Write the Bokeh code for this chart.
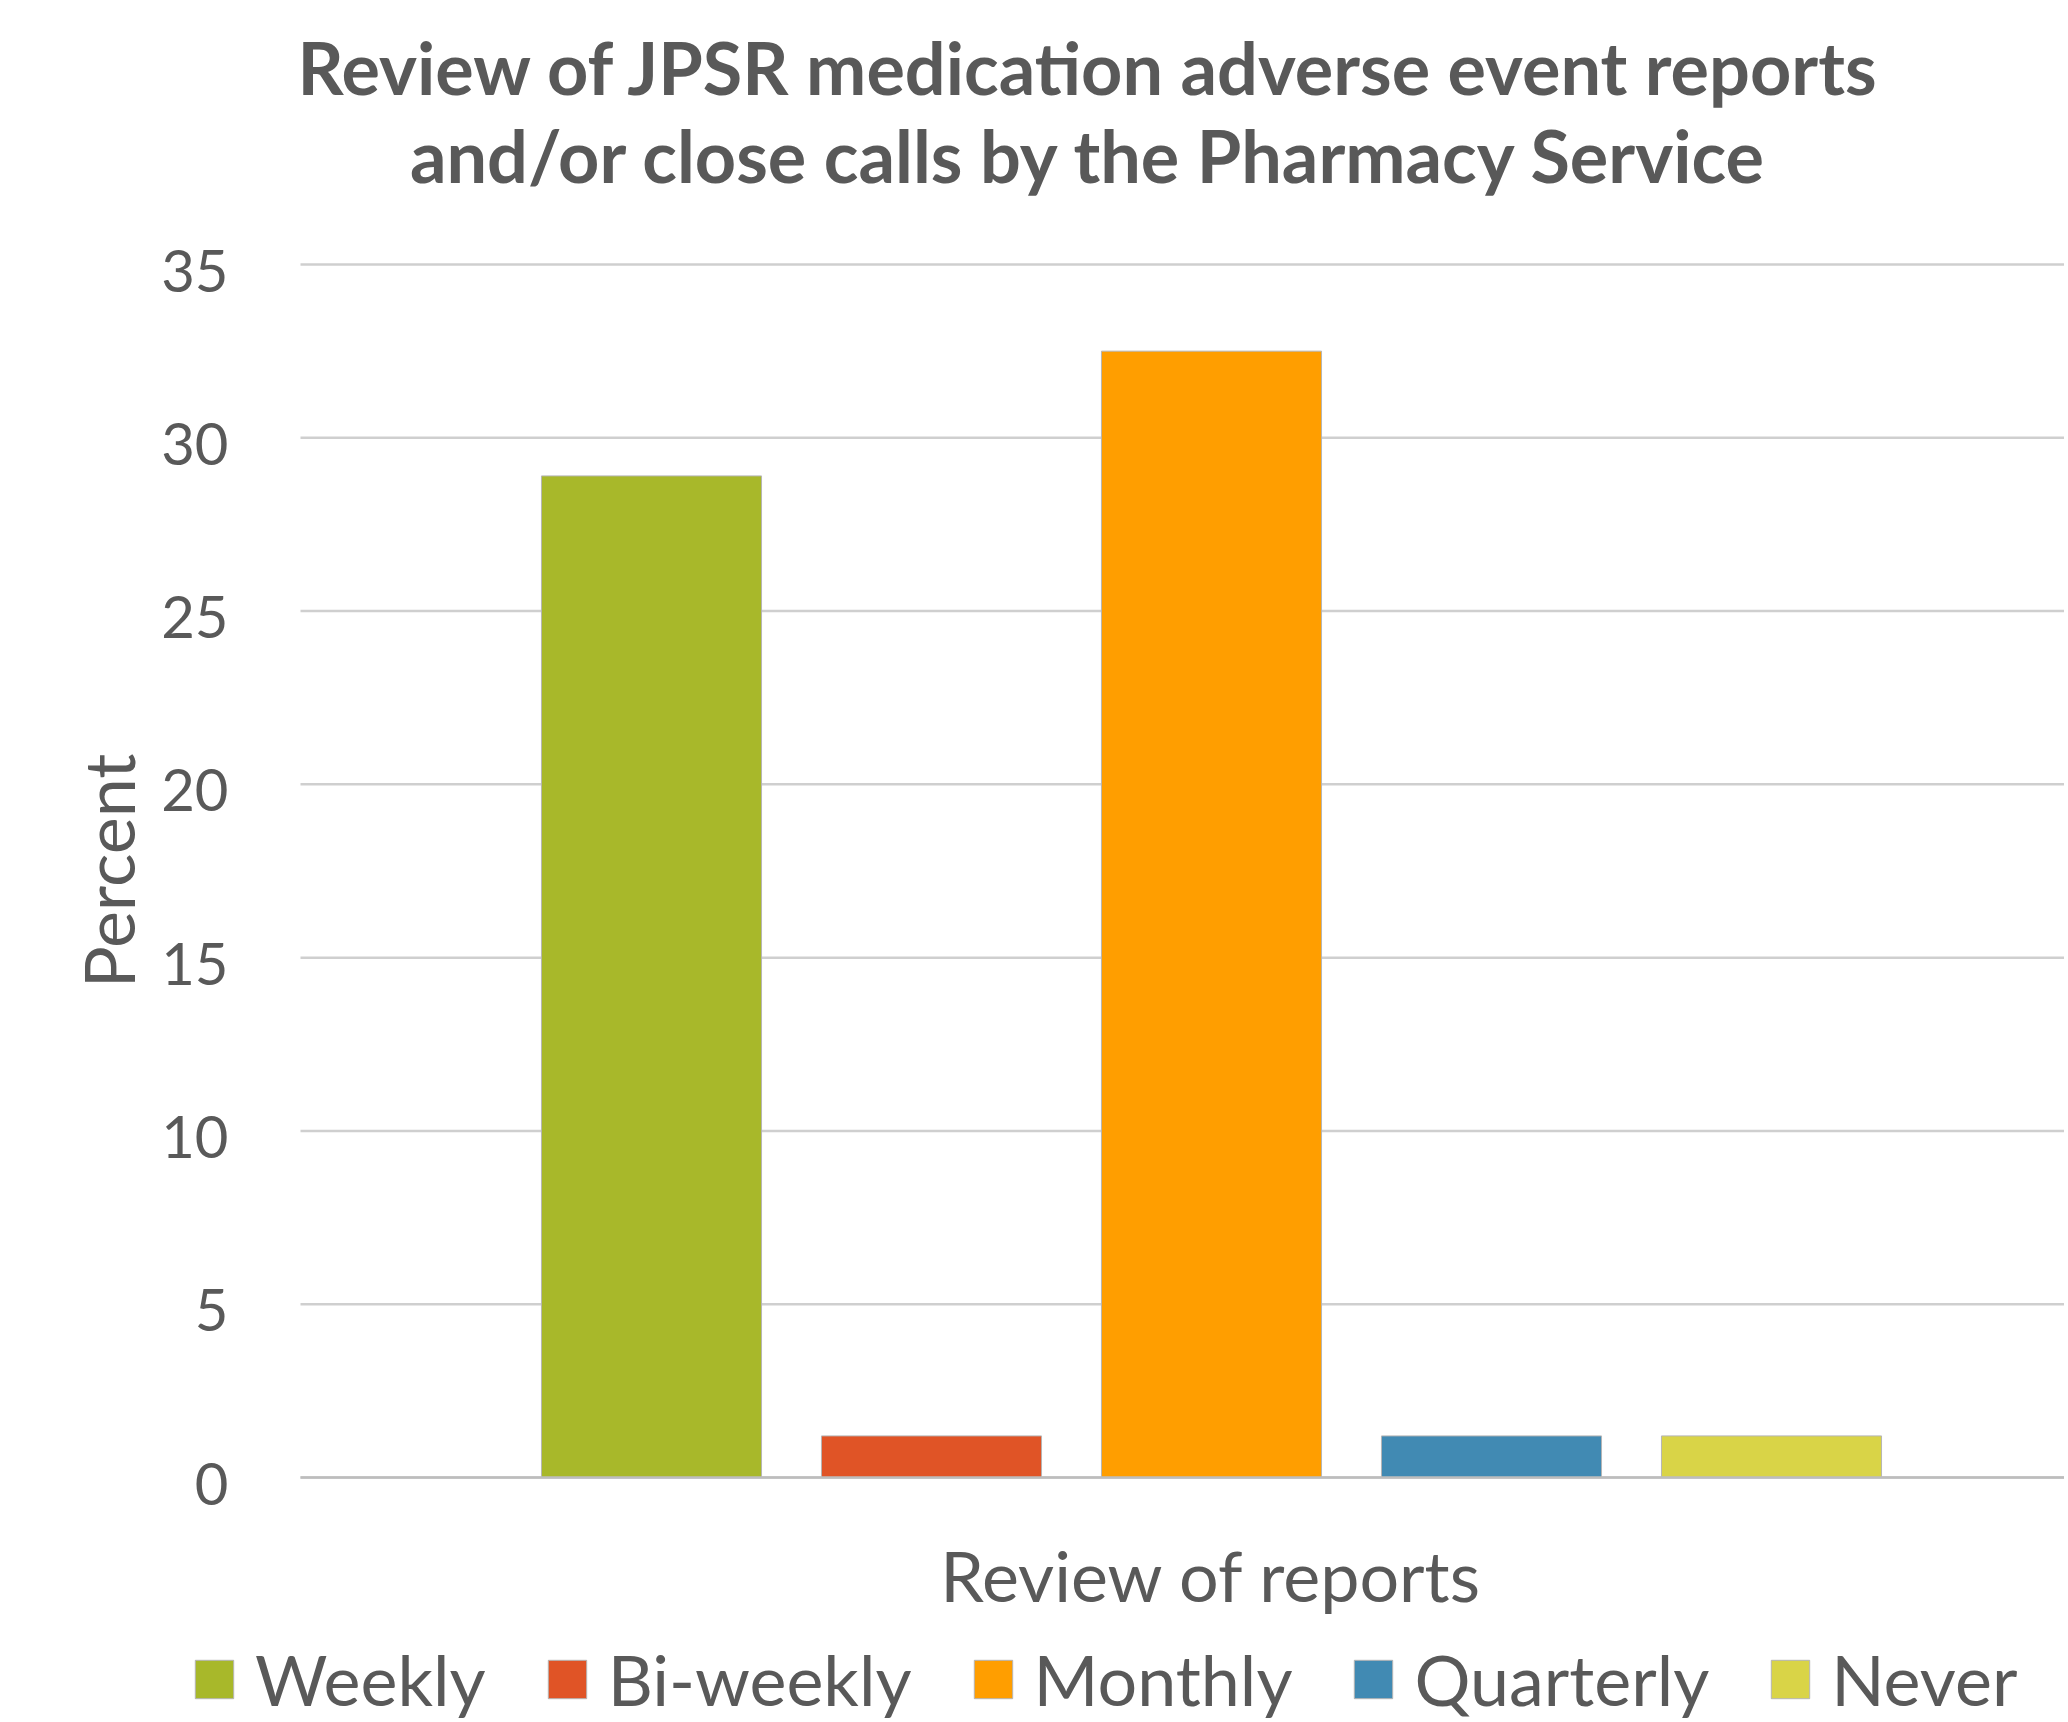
from bokeh.plotting import figure
from bokeh.models import ColumnDataSource, Range1d, Legend, LegendItem, Label
from bokeh.embed import file_html
from bokeh.resources import INLINE

# ---- data ----
categories = ["Weekly", "Bi-weekly", "Monthly", "Quarterly", "Never"]
percent = [28.9, 1.2, 32.5, 1.2, 1.2]
colors = ["#A8B82A", "#E05426", "#FF9E00", "#418AB3", "#D9D447"]
y_ticks = [0, 5, 10, 15, 20, 25, 30, 35]
y_tick_labels = ["0", "5", "10", "15", "20", "25", "30", "35"]
title_lines = ["Review of JPSR medication adverse event reports",
               "and/or close calls by the Pharmacy Service"]
x_title = "Review of reports"
y_title = "Percent"

FONT = "Lato"
TXT = "#595959"
W, H = 2064, 1722
PX_X, PX_Y = 280.0, 1213.0 / 35.0     # pixels per data unit
X0 = 1 - 651 / PX_X                      # data x at canvas left
Y1 = 1477 / PX_Y                         # data y at canvas top

positions = list(range(1, len(categories) + 1))
src = ColumnDataSource(dict(x=positions, top=percent, color=colors, cat=categories))

p = figure(width=W, height=H, min_border=0,
           x_range=Range1d(X0, X0 + W / PX_X),
           y_range=Range1d(Y1 - H / PX_Y, Y1),
           x_axis_location=None, y_axis_location=None,
           output_backend="svg", toolbar_location=None,
           background_fill_color="white", border_fill_color="white")
p.outline_line_color = None
p.grid.visible = False

grid_left = X0 + 300 / PX_X
grid_right = X0 + W / PX_X

# horizontal gridlines
p.segment(x0=[grid_left] * len(y_ticks), x1=[grid_right] * len(y_ticks),
          y0=y_ticks, y1=y_ticks, line_color="#cfcfcf", line_width=2.5)

# bars
r = p.vbar(x="x", top="top", width=0.786, source=src,
           fill_color="color", line_color="#b5b5b5", line_width=1)

# baseline
p.segment(x0=[grid_left], x1=[grid_right], y0=[0], y1=[0],
          line_color="#bdbdbd", line_width=2.5)

# y tick labels
p.text(x=[X0 + 228 / PX_X] * len(y_ticks), y=y_ticks, text=y_tick_labels,
       text_align="right", text_baseline="middle", y_offset=6,
       text_font={"value": FONT}, text_font_size={"value": "58px"},
       text_color=TXT)

# y axis title
p.add_layout(Label(x=X0 + 107 / PX_X, y=17.5, text=y_title, angle=1.5707963,
                   text_font=FONT, text_font_size="70px", text_color=TXT,
                   text_align="center", text_baseline="middle"))

# x axis title (centered on the middle category)
p.add_layout(Label(x=positions[2], y=-2.80, text=x_title, text_font=FONT,
                   text_font_size="70px", text_color=TXT, text_align="center",
                   text_baseline="alphabetic"))

# chart title
for ty, line in zip([40.71, 38.17], title_lines):
    p.add_layout(Label(x=X0 + 1089 / PX_X, y=ty, text=line, text_font=FONT,
                       text_font_size="72px", text_font_style="bold",
                       text_color=TXT, text_align="center",
                       text_baseline="alphabetic"))

# legend
items = [LegendItem(label=c, renderers=[r], index=i) for i, c in enumerate(categories)]
legend = Legend(items=items, orientation="horizontal", location=(190, 1),
                glyph_width=48, glyph_height=48, label_height=40,
                label_standoff=17, spacing=57, padding=0, margin=0,
                label_text_font=FONT, label_text_font_size="70px",
                label_text_color=TXT, border_line_color=None,
                background_fill_alpha=0)
p.add_layout(legend, "center")

open("out.html", "w").write(file_html(p, INLINE))
